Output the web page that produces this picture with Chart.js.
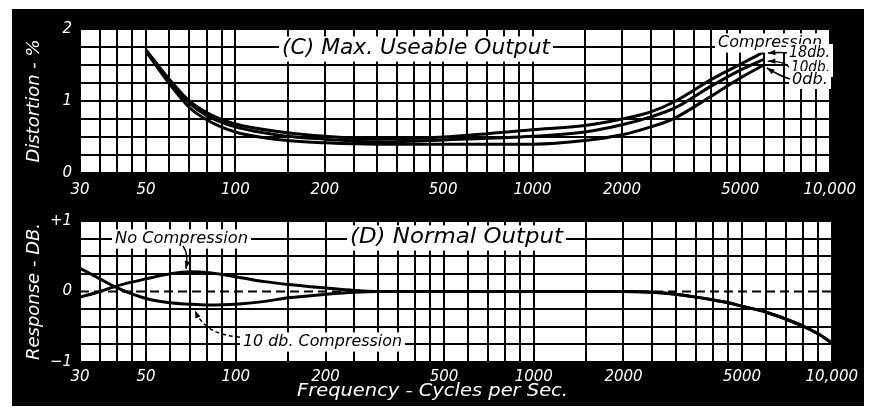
<!DOCTYPE html>
<html>
<head>
<meta charset="utf-8">
<script src="https://cdn.jsdelivr.net/npm/chart.js@4.4.1/dist/chart.umd.min.js"></script>
<style>
  body { margin: 0; background: #fff; width: 871px; height: 411px; overflow: hidden; position: relative; }
  #frame { position: absolute; left: 12px; top: 9px; width: 852px; height: 397px; background: #000; }
  .box { position: absolute; left: 12px; width: 852px; }
  #topBox { top: 9px; height: 195px; }
  #botBox { top: 204px; height: 202px; }
</style>
</head>
<body>
<div id="frame"></div>
<div class="box" id="topBox"><canvas id="distortion"></canvas></div>
<div class="box" id="botBox"><canvas id="response"></canvas></div>
<script>
// frequency grid of the log paper, and which lines get a number
const gridFreqs = [30, 35, 40, 45, 50, 60, 70, 80, 90, 100, 150, 200, 250, 300, 350, 400, 450, 500,
    600, 700, 800, 900, 1000, 1500, 2000, 2500, 3000, 3500, 4000, 4500, 5000, 6000, 7000, 8000, 9000, 10000];
const labelledFreqs = [30, 50, 100, 200, 500, 1000, 2000, 5000, 10000];

// (C) Max. useable output - distortion %
const distFreqs = [50, 60, 70, 80, 100, 150, 200, 300, 500, 1000, 1500, 2000, 2500, 3000, 4000, 5000, 6000];
const dist18db = [1.71, 1.30, 1.00, 0.84, 0.68, 0.56, 0.51, 0.47, 0.50, 0.60, 0.66, 0.75, 0.85, 0.99, 1.30, 1.51, 1.68];
const dist10db = [1.70, 1.28, 0.97, 0.80, 0.64, 0.51, 0.47, 0.43, 0.46, 0.51, 0.57, 0.67, 0.78, 0.90, 1.21, 1.43, 1.58];
const dist0db  = [1.69, 1.24, 0.91, 0.74, 0.57, 0.45, 0.42, 0.40, 0.40, 0.40, 0.45, 0.53, 0.64, 0.76, 1.07, 1.32, 1.50];

// (D) Normal output - response dB
const respFreqs = [30, 35, 40, 50, 60, 70, 80, 100, 125, 150, 200, 250, 300, 500, 1000, 2000, 2500,
    3000, 3500, 4000, 4500, 5000, 6000, 7000, 8000, 9000, 10000];
const respNoComp = [-0.08, 0.00, 0.08, 0.18, 0.25, 0.28, 0.27, 0.21, 0.14, 0.10, 0.05, 0.015, 0, 0, 0, 0, -0.01,
    -0.04, -0.08, -0.12, -0.16, -0.21, -0.29, -0.39, -0.49, -0.60, -0.73];
const resp10db = [0.33, 0.18, 0.05, -0.10, -0.16, -0.18, -0.19, -0.18, -0.14, -0.09, -0.04, -0.01, 0, 0, 0, 0, -0.01,
    -0.04, -0.08, -0.12, -0.16, -0.21, -0.29, -0.39, -0.49, -0.60, -0.73];
const zeroFreqs = [30, 10000];
const zeroLine = [0, 0];

const FONT = '"DejaVu Sans", sans-serif';
Chart.defaults.font.family = FONT;

function pts(xs, ys) { return xs.map((x, i) => ({ x: x, y: ys[i] })); }

function curve(label, xs, ys) {
    return {
        label: label, data: pts(xs, ys), borderColor: "#000", borderWidth: 3,
        pointRadius: 0, cubicInterpolationMode: "monotone", fill: false
    };
}

function freqAxis(height, pad) {
    return {
        type: "logarithmic", min: 30, max: 10000,
        afterBuildTicks: s => { s.ticks = gridFreqs.map(v => ({ value: v })); },
        afterFit: s => { s.height = height; },
        ticks: {
            autoSkip: false, maxRotation: 0, color: "#fff", padding: pad,
            font: { size: 15, style: "italic" },
            callback: v => labelledFreqs.includes(v) ? (v === 10000 ? "10,000" : String(v)) : ""
        },
        grid: { color: "#000", lineWidth: 2, drawTicks: false },
        border: { color: "#000", width: 2 }
    };
}

function valueAxis(min, max, labels, title, hideZeroGrid) {
    return {
        min: min, max: max,
        afterFit: s => { s.width = 68; },
        ticks: {
            stepSize: 0.25, autoSkip: false, color: "#fff", padding: 8, font: { size: 15, style: "italic" },
            callback: v => labels[v] !== undefined ? labels[v] : ""
        },
        grid: {
            lineWidth: 2, drawTicks: false,
            color: c => (hideZeroGrid && c.tick && c.tick.value === 0) ? "rgba(0,0,0,0)" : "#000"
        },
        border: { color: "#000", width: 2 },
        title: { display: true, text: title, color: "#fff", font: { size: 18, style: "italic" }, padding: { top: 12, bottom: 0 } }
    };
}

// white paper behind the grid
const plotBackground = {
    id: "plotBackground",
    beforeDraw(chart) {
        const { ctx, chartArea: a } = chart;
        ctx.save();
        ctx.fillStyle = "#fff";
        ctx.fillRect(a.left, a.top, a.right - a.left, a.bottom - a.top);
        ctx.restore();
    }
};

function fitText(ctx, text, x, cy, w, size, color, bg) {
    ctx.save();
    ctx.font = "italic " + size + "px " + FONT;
    const m = ctx.measureText(text).width;
    if (bg) {
        ctx.fillStyle = "#fff";
        ctx.fillRect(x - 3, cy - size * 0.6, w + 6, size * 1.2);
    }
    ctx.translate(x, cy);
    ctx.scale(w / m, 1);
    ctx.fillStyle = color;
    ctx.textBaseline = "middle";
    ctx.textAlign = "left";
    ctx.fillText(text, 0, 0);
    ctx.restore();
}

function arrow(ctx, x0, y0, cx, cy, x1, y1, dashed) {
    ctx.save();
    ctx.strokeStyle = "#000";
    ctx.lineWidth = 1.5;
    if (dashed) ctx.setLineDash([4, 3]);
    ctx.beginPath();
    ctx.moveTo(x0, y0);
    ctx.quadraticCurveTo(cx, cy, x1, y1);
    ctx.stroke();
    ctx.setLineDash([]);
    const ang = Math.atan2(y1 - cy, x1 - cx);
    ctx.beginPath();
    ctx.moveTo(x1, y1);
    ctx.lineTo(x1 - 8 * Math.cos(ang - 0.35), y1 - 8 * Math.sin(ang - 0.35));
    ctx.lineTo(x1 - 8 * Math.cos(ang + 0.35), y1 - 8 * Math.sin(ang + 0.35));
    ctx.closePath();
    ctx.fillStyle = "#000";
    ctx.fill();
    ctx.restore();
}

const topNotes = {
    id: "topNotes",
    afterDraw(chart) {
        const ctx = chart.ctx, xs = chart.scales.x, ys = chart.scales.y;
        fitText(ctx, "(C) Max. Useable Output", 270, 40, 268, 21, "#000", true);
        fitText(ctx, "Compression", 706, 34, 104, 16, "#000", true);
        fitText(ctx, "18db.", 777, 44, 41, 15, "#000", true);
        fitText(ctx, "10db.", 779, 59, 39, 15, "#000", true);
        fitText(ctx, "0db.", 780, 71, 36, 15, "#000", true);
        const xe = xs.getPixelForValue(6000) + 3;
        arrow(ctx, 775, 44, 771, 43, xe + 1, ys.getPixelForValue(1.68) + 1);
        arrow(ctx, 777, 58, 772, 52, xe + 1, ys.getPixelForValue(1.58) + 2);
        arrow(ctx, 778, 70, 768, 67, xe, ys.getPixelForValue(1.50) + 3);
    }
};

const bottomNotes = {
    id: "bottomNotes",
    afterDraw(chart) {
        const ctx = chart.ctx, xs = chart.scales.x, ys = chart.scales.y;
        fitText(ctx, "(D) Normal Output", 338, 34, 213, 21, "#000", true);
        fitText(ctx, "No Compression", 103, 35, 133, 16, "#000", true);
        fitText(ctx, "10 db. Compression", 231, 138, 159, 16, "#000", true);
        fitText(ctx, "Frequency - Cycles per Sec.", 285, 187, 271, 18, "#fff", false);
        arrow(ctx, 171, 42, 177, 50, xs.getPixelForValue(68), ys.getPixelForValue(0.28) - 3);
        arrow(ctx, 228, 133, 193, 131, xs.getPixelForValue(73), ys.getPixelForValue(-0.185) + 6, true);
    }
};

new Chart(document.getElementById("distortion"), {
    type: "line",
    data: {
        datasets: [
            curve("18 db. compression", distFreqs, dist18db),
            curve("10 db. compression", distFreqs, dist10db),
            curve("0 db. compression", distFreqs, dist0db)
        ]
    },
    options: {
        responsive: true, maintainAspectRatio: false, animation: false,
        layout: { padding: { top: 20, right: 25, left: 0, bottom: 0 } },
        plugins: { legend: { display: false }, tooltip: { enabled: false } },
        scales: {
            x: freqAxis(31, 8),
            y: valueAxis(0, 2, { 0: "0", 1: "1", 2: "2" }, "Distortion - %", false)
        }
    },
    plugins: [plotBackground, topNotes]
});

new Chart(document.getElementById("response"), {
    type: "line",
    data: {
        datasets: [
            curve("No Compression", respFreqs, respNoComp),
            curve("10 db. Compression", respFreqs, resp10db),
            {
                label: "0 db", data: pts(zeroFreqs, zeroLine), borderColor: "#000", borderWidth: 2,
                borderDash: [9, 5], pointRadius: 0, fill: false
            }
        ]
    },
    options: {
        responsive: true, maintainAspectRatio: false, animation: false,
        layout: { padding: { top: 14, right: 25, left: 0, bottom: 0 } },
        plugins: { legend: { display: false }, tooltip: { enabled: false } },
        scales: {
            x: freqAxis(44, 6),
            y: valueAxis(-1, 1, { "-1": "\u22121", 0: "0", 1: "+1" }, "Response - DB.", true)
        }
    },
    plugins: [plotBackground, bottomNotes]
});
</script>
</body>
</html>
